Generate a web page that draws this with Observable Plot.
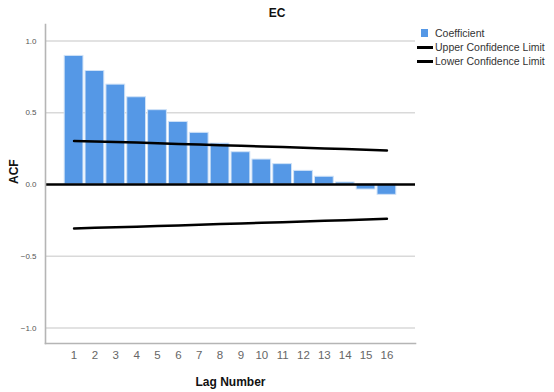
<!DOCTYPE html>
<html>
<head>
<meta charset="utf-8">
<script src="https://cdn.jsdelivr.net/npm/d3@7"></script>
<script src="https://cdn.jsdelivr.net/npm/@observablehq/plot@0.6"></script>
<style>
  html, body { margin: 0; padding: 0; background: #fff; }
  #wrap { position: relative; width: 554px; height: 392px; overflow: hidden; font-family: Arial, "Liberation Sans", sans-serif; }
  #title { position: absolute; left: 0; width: 554px; top: 6px; text-align: center; font-weight: bold; font-size: 12px; color: #111; }
  #legend { position: absolute; left: 417px; top: 26px; font-family: Arial, "Liberation Sans", sans-serif; font-size: 10.5px; color: #333; white-space: nowrap; }
  .li { display: flex; align-items: center; height: 14px; }
  .sw { display: inline-block; width: 7px; height: 8px; background: #5598e6; margin-left: 4px; margin-right: 7px; }
  .ln { display: inline-block; width: 16px; height: 3px; background: #000; margin-right: 2px; }
  #plot { position: absolute; left: 0; top: 0; }
</style>
</head>
<body>
<div id="wrap">
  <div id="plot"></div>
  <div id="title">EC</div>
  <div id="legend">
    <div class="li"><span class="sw"></span>Coefficient</div>
    <div class="li"><span class="ln"></span>Upper Confidence Limit</div>
    <div class="li"><span class="ln"></span>Lower Confidence Limit</div>
  </div>
</div>
<script>
const lags = [1,2,3,4,5,6,7,8,9,10,11,12,13,14,15,16];
const coefficient = [0.896,0.791,0.696,0.608,0.518,0.436,0.360,0.285,0.225,0.174,0.142,0.095,0.054,0.014,-0.035,-0.072];
const upperLimit = [0.304,0.300,0.296,0.292,0.288,0.283,0.279,0.274,0.270,0.265,0.261,0.256,0.251,0.247,0.242,0.237];
const lowerLimit = [-0.306,-0.302,-0.298,-0.294,-0.290,-0.285,-0.281,-0.276,-0.272,-0.267,-0.263,-0.258,-0.253,-0.249,-0.244,-0.239];
const yTicks = [-1.0,-0.5,0.0,0.5,1.0];

const data = lags.map((lag, i) => ({lag, acf: coefficient[i], upper: upperLimit[i], lower: lowerLimit[i]}));

const chart = Plot.plot({
  width: 554,
  height: 392,
  marginLeft: 45,
  marginRight: 139,
  marginTop: 24,
  marginBottom: 49,
  style: {fontFamily: "Arial, 'Liberation Sans', sans-serif", background: "transparent"},
  x: {type: "band", domain: lags, paddingInner: 0.1, paddingOuter: 0.92, round: false, label: null},
  y: {domain: [-1.108, 1.115], label: null},
  marks: [
    Plot.ruleY([-1, -0.5, 0.5, 1], {stroke: "#d9d9d9", strokeWidth: 1.3}),
    Plot.barY(data, {x: "lag", y: "acf", fill: "#5598e6", stroke: "#cfe2f7", strokeWidth: 1}),
    Plot.ruleY([0], {stroke: "#000", strokeWidth: 2.5}),
    Plot.line(data, {x: "lag", y: "upper", stroke: "#000", strokeWidth: 2.5}),
    Plot.line(data, {x: "lag", y: "lower", stroke: "#000", strokeWidth: 2.5}),
    Plot.axisY({ticks: yTicks, tickFormat: d3.format(".1f"), tickSize: 0, tickPadding: 9, fontSize: 8, fill: "#555", label: null}),
    Plot.axisX({tickSize: 0, tickPadding: 7, fontSize: 11.5, fill: "#666", label: null}),
    Plot.frame({anchor: "left", stroke: "#b5b5b5", strokeWidth: 1.6}),
    Plot.frame({anchor: "bottom", stroke: "#b5b5b5", strokeWidth: 1.6}),
    Plot.text(["ACF"], {frameAnchor: "left", dx: -31, rotate: -90, fontWeight: "bold", fontSize: 12, fill: "#111"}),
    Plot.text(["Lag Number"], {frameAnchor: "bottom", dy: 42, fontWeight: "bold", fontSize: 12, fill: "#111"})
  ]
});
document.getElementById("plot").appendChild(chart);
</script>
</body>
</html>
